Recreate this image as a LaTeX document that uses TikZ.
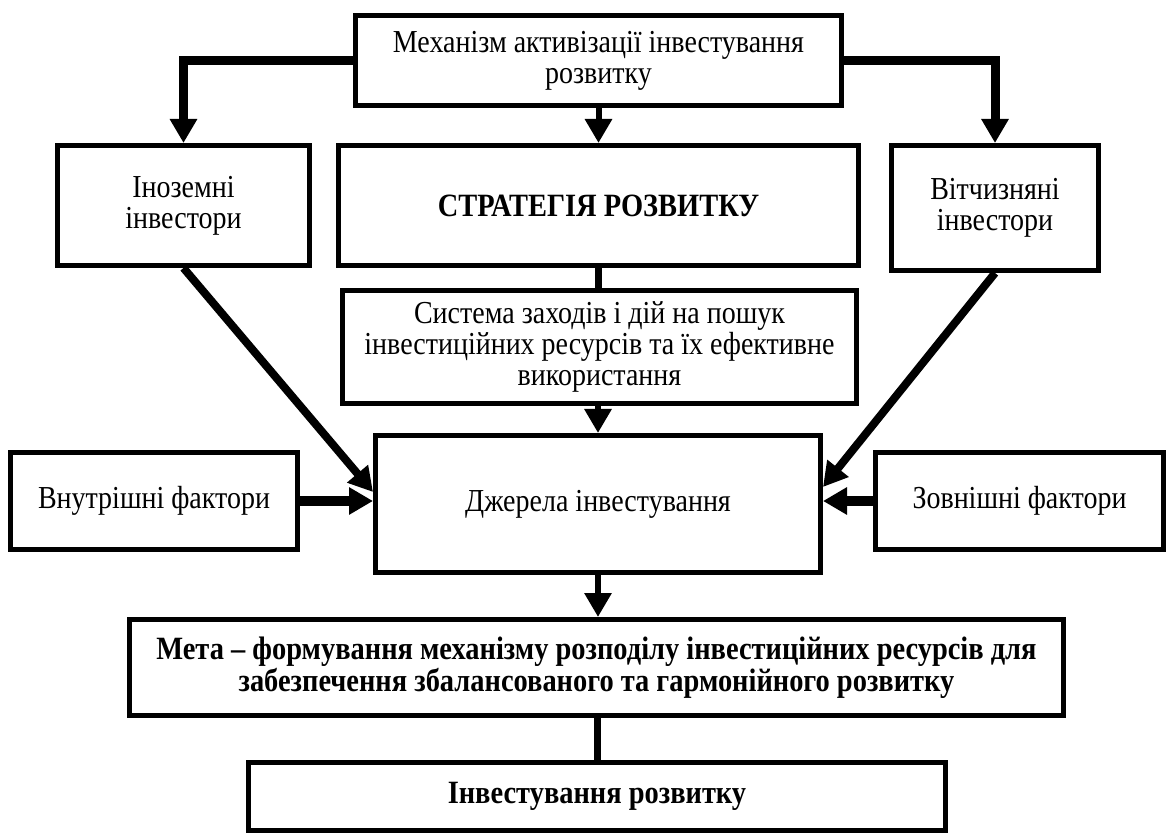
\documentclass[tikz,border=0pt]{standalone}
\usepackage{fontspec}
\setmainfont{Liberation Serif}[FakeStretch=0.875]
\usetikzlibrary{arrows.meta,calc}
\begin{document}
\begin{tikzpicture}[x=1pt,y=-1pt,
  box/.style={draw, line width=5pt, inner sep=0pt, align=center, font=\fontsize{32}{31}\selectfont},
  bbox/.style={box, font=\fontsize{32.5}{32}\selectfont\bfseries},
  conn/.style={line width=8pt},
  arr/.style={line width=8pt, -{Triangle[width=26pt,length=24pt]}},
]
\useasboundingbox (0,0) rectangle (1168,834);
\fill[white] (0,0) rectangle (1168,834);

\node[box, minimum width=486pt, minimum height=90pt] (top) at (598.5,60.5) {Механізм активізації інвестування\\розвитку};
\node[box, minimum width=252pt, minimum height=120pt] (ino) at (183.5,205.5) {Іноземні\\інвестори};
\node[bbox, minimum width=520pt, minimum height=120pt] (str) at (598.5,205.5) {СТРАТЕГІЯ РОЗВИТКУ};
\node[box, minimum width=207pt, minimum height=125pt] (vit) at (995,208) {Вітчизняні\\інвестори};
\node[box, minimum width=514pt, minimum height=113pt] (sys) at (599.5,347) {Система заходів і дій на пошук\\інвестиційних ресурсів та їх ефективне\\використання};
\node[box, minimum width=445pt, minimum height=137pt] (dz) at (598,504) {Джерела інвестування};
\node[box, minimum width=287pt, minimum height=97pt] (vn) at (154,501) {Внутрішні фактори};
\node[box, minimum width=288pt, minimum height=97pt] (zv) at (1019.5,501) {Зовнішні фактори};
\node[bbox, minimum width=934pt, minimum height=96pt] (meta) at (596.5,667.5) {Мета – формування механізму розподілу інвестиційних ресурсів для\\забезпечення збалансованого та гармонійного розвитку};
\node[bbox, minimum width=697pt, minimum height=68pt] (inv) at (597,796.5) {Інвестування розвитку};

\draw[arr, line width=9pt] (top.west) -| (ino.north);
\draw[arr, line width=9pt] (top.east) -| (vit.north);
\draw[arr, line width=6pt] (top.south) -- (str.north);
\draw[conn, line width=7pt] (str.south) -- (str.south |- sys.north);
\draw[arr, line width=6pt] (sys.south -| dz.north) -- (dz.north);
\draw[arr] (ino.south) -- ([yshift=12pt]dz.west);
\draw[arr] (vit.south) -- ([yshift=17pt]dz.east);
\draw[arr, line width=10pt] (vn.east) -- (vn.east -| dz.west);
\draw[arr, line width=10pt] (zv.west) -- (zv.west -| dz.east);
\draw[arr, line width=6pt] (dz.south) -- (dz.south |- meta.north);
\draw[conn, line width=7pt] (meta.south -| inv.north) -- (inv.north);
\end{tikzpicture}
\end{document}
